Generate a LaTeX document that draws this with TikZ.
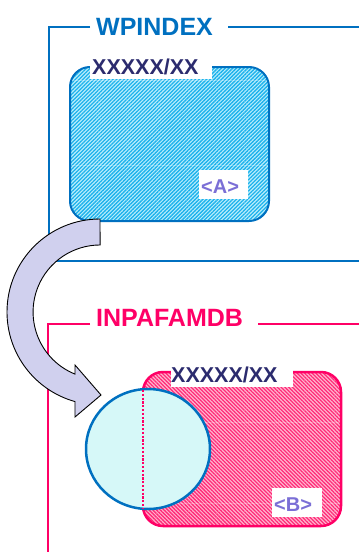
\documentclass[tikz,border=0pt]{standalone}
\usepackage{fontspec}
\setmainfont{Liberation Sans}
\usetikzlibrary{patterns.meta, shapes.geometric}

\definecolor{frameblue}{HTML}{0070C0}
\definecolor{framepink}{HTML}{FF0066}
\definecolor{navy}{HTML}{2B2B6E}
\definecolor{tagpurple}{HTML}{7B6FD6}
\definecolor{arrowfill}{HTML}{D0D0EE}
\definecolor{cyanbg}{HTML}{BDEEFC}
\definecolor{cyanline}{HTML}{1CB2EC}
\definecolor{pinkbg}{HTML}{FFB8D0}
\definecolor{pinkline}{HTML}{FF2A78}
\definecolor{circlefill}{HTML}{D6F8F8}

\tikzset{
  title/.style={anchor=base west, inner sep=0pt,
    font=\fontsize{25}{25}\selectfont\bfseries},
  codelabel/.style={anchor=base west, inner sep=0pt, text=navy,
    font=\fontsize{21.5}{21.5}\selectfont\bfseries},
  taglabel/.style={anchor=base west, inner sep=0pt, text=tagpurple,
    font=\fontsize{20}{20}\selectfont\bfseries},
  frameline/.style={line width=2pt},
  faint/.style={white, opacity=0.25, line width=0.5pt},
}

\begin{document}
\begin{tikzpicture}[x=1pt, y=-1pt]
\useasboundingbox (0,0) rectangle (359,552);

% ---- WPINDEX frame ----
\draw[frameline, frameblue] (90,27) -- (49,27) -- (49,261) -- (359,261);
\draw[frameline, frameblue] (228,27) -- (359,27);
\node[title, text=frameblue] (wpindex) at (96,35) {WPINDEX};

% source table (hatched cyan)
\fill[cyanbg, rounded corners=20pt] (70,67) rectangle (269,221);
\fill[pattern={Lines[angle=45, distance=2.65pt, line width=1.3pt]},
      pattern color=cyanline, rounded corners=20pt] (70,67) rectangle (269,221);
\draw[faint] (71,80) -- (268,80);
\draw[faint] (71,165) -- (268,165);
\draw[frameblue, line width=2pt, rounded corners=20pt] (70,67) rectangle (269,221);
\fill[white] (90,56) rectangle (212,79);
\node[codelabel] (codeA) at (92,74) {XXXXX/XX};
\fill[white] (199,170) rectangle (248,199);
\node[taglabel] (tagA) at (201,193) {<A>};

% ---- INPAFAMDB frame ----
\draw[frameline, framepink] (90,324) -- (48,324) -- (48,552);
\draw[frameline, framepink] (258,324) -- (359,324);
\node[title, text=framepink] (inpafamdb) at (96,326) {INPAFAMDB};

% target table (hatched pink)
\fill[pinkbg, rounded corners=20pt] (143,372) rectangle (341,526);
\fill[pattern={Lines[angle=-45, distance=2.65pt, line width=1.3pt]},
      pattern color=pinkline, rounded corners=20pt] (143,372) rectangle (341,526);
\draw[faint] (144,422) -- (340,422);
\draw[faint] (144,503) -- (340,503);
\draw[framepink, line width=2.5pt, rounded corners=20pt] (143,372) rectangle (341,526);
\fill[white] (171,365) rectangle (293,387);
\node[codelabel] (codeB) at (171,382) {XXXXX/XX};
\fill[white] (272,488) rectangle (322,517);
\node[taglabel] (tagB) at (274,511) {<B>};

% transferred subset
\node[draw=frameblue, line width=2.5pt, fill=circlefill, ellipse,
      minimum width=124pt, minimum height=120pt, inner sep=0pt] (subset) at (148,449) {};
\draw[framepink, line width=2.2pt, dash pattern=on 2.2pt off 1.6pt] (143,390) -- (143,508);

% ---- curved transfer arrow ----
\draw[black, line width=0.9pt, fill=arrowfill, line join=miter]
  (100,219) arc[start angle=270, end angle=105.6, radius=93]
  -- (75,417) -- (101,395) -- (75,365)
  -- (75,374.1) arc[start angle=112, end angle=270, radius=67]
  -- cycle;
\end{tikzpicture}
\end{document}
